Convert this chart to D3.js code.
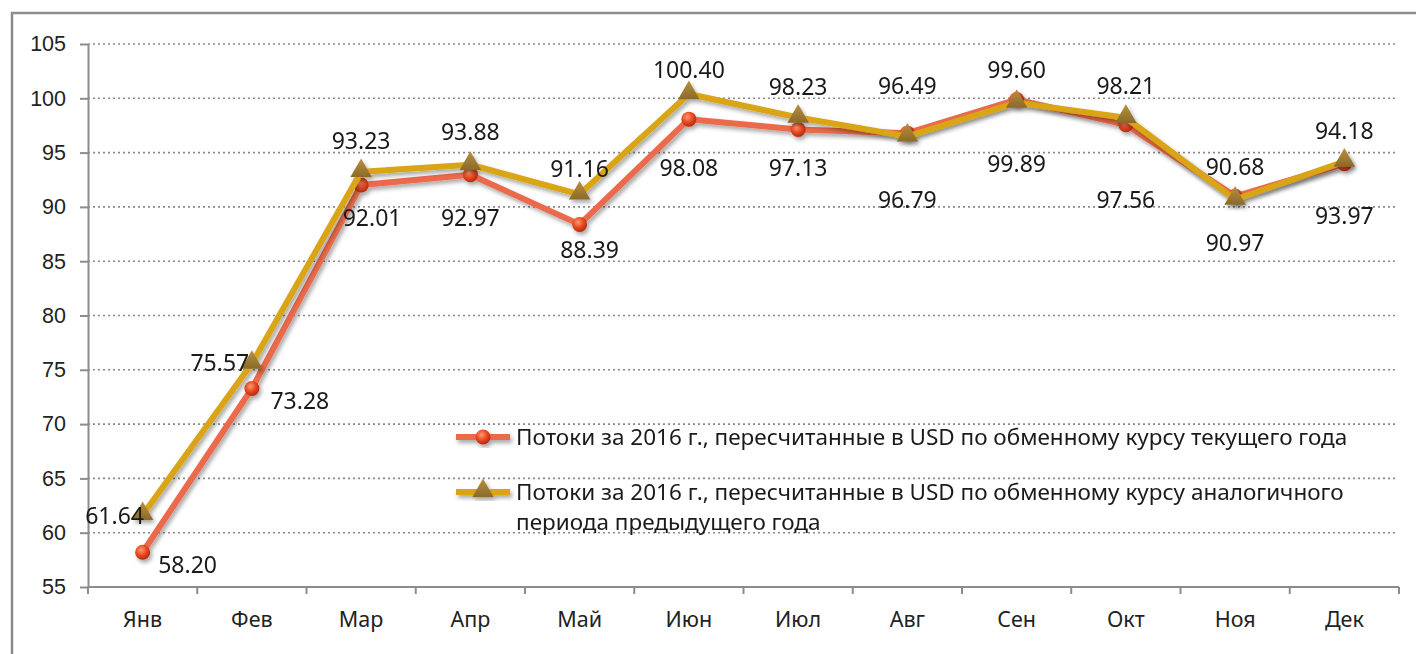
<!DOCTYPE html>
<html lang="ru">
<head>
  <meta charset="UTF-8">
  <title>Потоки за 2016 г.</title>
  <script src="https://cdn.jsdelivr.net/npm/d3@7/dist/d3.min.js"></script>
  <style>
    body { margin: 0; background: #fff; }
    svg { display: block; font-family: "Noto Sans", "Open Sans", sans-serif; }
    .axis path, .axis line { stroke: #8c8c8c; stroke-width: 2; fill: none; }
    .axis text { fill: #222; font-size: 21.5px; }
    .grid line { stroke: #8a8a8a; stroke-width: 1.6; stroke-dasharray: 2 3; }
    .lbl { font-size: 23px; fill: #1a1a1a; }
    .legend text { font-size: 22.5px; fill: #1a1a1a; }
  </style>
</head>
<body>
<svg width="1416" height="654"></svg>
<script>
  // данные
  const months = ['Янв', 'Фев', 'Мар', 'Апр', 'Май', 'Июн', 'Июл', 'Авг', 'Сен', 'Окт', 'Ноя', 'Дек'];
  const currentRate = [58.20, 73.28, 92.01, 92.97, 88.39, 98.08, 97.13, 96.79, 99.89, 97.56, 90.97, 93.97];
  const prevRate = [61.64, 75.57, 93.23, 93.88, 91.16, 100.40, 98.23, 96.49, 99.60, 98.21, 90.68, 94.18];
  const yTicks = [55, 60, 65, 70, 75, 80, 85, 90, 95, 100, 105];
  const seriesNames = [
    ['Потоки за 2016 г., пересчитанные в USD по обменному курсу текущего года'],
    ['Потоки за 2016 г., пересчитанные в USD по обменному курсу аналогичного', 'периода предыдущего года']
  ];

  // смещения подписей (как в исходной диаграмме)
  const curLabelDx = [45, 48, 11, 0, 10, 0, 0, 0, 0, 0, 0, 0];
  const curLabelDy = [13, 12, 33, 43, 26, 49, 38, 67, 64, 75, 47, 52];
  const prevLabelDx = [-28, -32, 0, 0, 0, 0, 0, 0, 0, 0, 0, 0];
  const prevLabelDy = [1, -1, -31, -33, -25, -24, -31, -50, -33, -32, -33, -31];

  const svg = d3.select('svg');
  const margin = { top: 44, left: 88, right: 1399, bottom: 587 };

  const x = d3.scaleBand().domain(months).range([margin.left, margin.right]);
  const y = d3.scaleLinear().domain([55, 105]).range([margin.bottom, margin.top]);
  const cx = d => x(d) + x.bandwidth() / 2;

  const defs = svg.append('defs');
  const shadow = defs.append('filter').attr('id', 'shadow')
    .attr('x', '-10%').attr('y', '-10%').attr('width', '130%').attr('height', '130%');
  shadow.append('feDropShadow').attr('dx', 2).attr('dy', 3).attr('stdDeviation', 2)
    .attr('flood-color', '#000').attr('flood-opacity', 0.35);

  const rg = defs.append('radialGradient').attr('id', 'ball').attr('cx', '40%').attr('cy', '35%').attr('r', '65%');
  rg.append('stop').attr('offset', '0%').attr('stop-color', '#ff9a70');
  rg.append('stop').attr('offset', '55%').attr('stop-color', '#e84a22');
  rg.append('stop').attr('offset', '100%').attr('stop-color', '#b52a10');

  const tg = defs.append('linearGradient').attr('id', 'tri').attr('x1', 0).attr('y1', 0).attr('x2', 0).attr('y2', 1);
  tg.append('stop').attr('offset', '0%').attr('stop-color', '#b89040');
  tg.append('stop').attr('offset', '100%').attr('stop-color', '#8a6a28');

  // рамка
  svg.append('path')
    .attr('d', 'M12,660 L12,13 L1420,13')
    .attr('fill', 'none').attr('stroke', '#8c8c8c').attr('stroke-width', 2.5);

  // сетка
  svg.append('g').attr('class', 'grid')
    .selectAll('line').data(yTicks.filter(t => t > 55)).join('line')
    .attr('x1', margin.left).attr('x2', 1396)
    .attr('y1', d => y(d)).attr('y2', d => y(d));

  // оси
  const yAxis = d3.axisLeft(y).tickValues(yTicks).tickSize(8).tickPadding(14).tickSizeOuter(0);
  svg.append('g').attr('class', 'axis').attr('transform', `translate(${margin.left},0)`).call(yAxis);

  const gx = svg.append('g').attr('class', 'axis').attr('transform', `translate(0,${margin.bottom})`);
  gx.append('line').attr('x1', margin.left).attr('x2', margin.right).attr('y1', 0).attr('y2', 0);
  const bounds = months.map(m => x(m)).concat([margin.right]);
  gx.selectAll('line.tk').data(bounds).join('line').attr('class', 'tk')
    .attr('x1', d => d).attr('x2', d => d).attr('y1', 0).attr('y2', 7);
  gx.selectAll('text').data(months).join('text')
    .attr('x', d => cx(d)).attr('y', 40).attr('text-anchor', 'middle').text(d => d);

  // линии
  const line = d3.line().x((d, i) => cx(months[i])).y(d => y(d));

  function drawSeries(values, color, marker) {
    const g = svg.append('g').attr('filter', 'url(#shadow)');
    g.append('path').datum(values).attr('d', line)
      .attr('fill', 'none').attr('stroke', color).attr('stroke-width', 6).attr('stroke-linejoin', 'round');
    values.forEach((v, i) => marker(g, cx(months[i]), y(v)));
  }

  const circleMarker = (g, px, py) => g.append('circle').attr('cx', px).attr('cy', py).attr('r', 7.5)
    .attr('fill', 'url(#ball)');
  const triMarker = (g, px, py) => g.append('path')
    .attr('d', d3.symbol().type(d3.symbolTriangle).size(200)())
    .attr('transform', `translate(${px},${py - 1})`)
    .attr('fill', 'url(#tri)');

  drawSeries(currentRate, '#ea6a4c', circleMarker);
  drawSeries(prevRate, '#d9a414', triMarker);

  // подписи данных
  svg.append('g').selectAll('text').data(currentRate).join('text').attr('class', 'lbl')
    .attr('x', (d, i) => cx(months[i]) + curLabelDx[i])
    .attr('y', (d, i) => y(d) + curLabelDy[i])
    .attr('dy', '0.35em').attr('text-anchor', 'middle')
    .text(d => d.toFixed(2));
  svg.append('g').selectAll('text').data(prevRate).join('text').attr('class', 'lbl')
    .attr('x', (d, i) => cx(months[i]) + prevLabelDx[i])
    .attr('y', (d, i) => y(d) + prevLabelDy[i])
    .attr('dy', '0.35em').attr('text-anchor', 'middle')
    .text(d => d.toFixed(2));

  // легенда
  const lg = svg.append('g').attr('class', 'legend');
  const legendItems = [
    { y: 437, color: '#ea6a4c', marker: circleMarker, lines: seriesNames[0] },
    { y: 492, color: '#d9a414', marker: triMarker, lines: seriesNames[1] }
  ];
  legendItems.forEach(it => {
    const g = lg.append('g').attr('filter', 'url(#shadow)');
    g.append('line').attr('x1', 456).attr('x2', 510).attr('y1', it.y).attr('y2', it.y)
      .attr('stroke', it.color).attr('stroke-width', 6);
    it.marker(g, 483, it.y);
    it.lines.forEach((t, k) => {
      lg.append('text').attr('x', 516).attr('y', it.y + k * 30).attr('dy', '0.35em').text(t);
    });
  });
</script>
</body>
</html>
